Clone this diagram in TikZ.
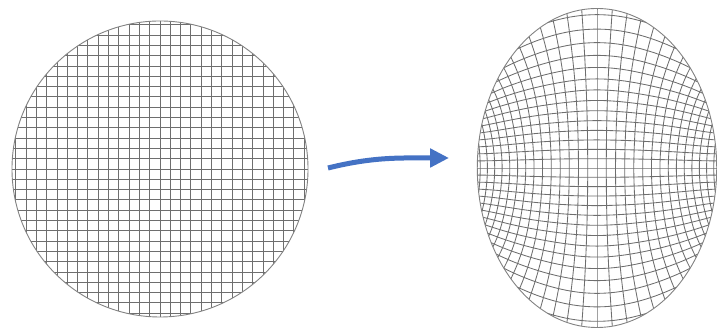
\documentclass[tikz,border=0pt]{standalone}
\usepackage{tikz}
\usetikzlibrary{positioning,arrows.meta,shapes.geometric}
\definecolor{meshgray}{RGB}{110,110,110}
\definecolor{rimgray}{RGB}{130,130,130}
\definecolor{arrblue}{RGB}{68,114,196}

\begin{document}
\begin{tikzpicture}[
  x=0.35mm, y=0.35mm,
  mesh/.style={draw=meshgray, line width=0.85pt},
  rim/.style={draw=rimgray, line width=0.9pt, inner sep=0pt, outer sep=0pt},
  arr/.style={-{Triangle[length=6.6mm, width=6.3mm]}, draw=arrblue, line width=1.75mm},
  declare function={
    mapu(\p,\q)=\p-0.1488*(\p*\p*\p-3*\p*\q*\q)+0.0418*(\p*\p*\p*\p*\p-10*\p*\p*\p*\q*\q+5*\p*\q*\q*\q*\q);
    mapv(\p,\q)=\q-0.1488*(3*\p*\p*\q-\q*\q*\q)+0.0418*(5*\p*\p*\p*\p*\q-10*\p*\p*\q*\q*\q+\q*\q*\q*\q*\q);
    rimfix(\a)=1/sqrt((mapu(cos(\a),sin(\a))/0.893)^2+(mapv(cos(\a),sin(\a))/1.1906)^2);
    warpu(\p,\q)=mapu(\p,\q)*(1+(rimfix(atan2(\q,\p))-1)*(\p*\p+\q*\q));
    warpv(\p,\q)=mapv(\p,\q)*(1+(rimfix(atan2(\q,\p))-1)*(\p*\p+\q*\q));
  }
]
  \useasboundingbox (0,0) rectangle (717,331);

  % --- Left: disk with a square mesh ---
  \begin{scope}
    \clip (160,162) circle [radius=148];
    \begin{scope}[shift={(160,162)}]
      \draw[mesh, step=10.3] (-155,-155) grid (155,155);
    \end{scope}
  \end{scope}
  \node[rim, circle, minimum size=103.6mm] (flat) at (160,162) {};

  % --- Right: same mesh after the warp ---
  \foreach \k in {-14,...,14} {
    \pgfmathsetmacro{\c}{\k*0.0694}
    \pgfmathsetmacro{\L}{sqrt(1-\c*\c)}
    \draw[mesh] plot[domain=-\L:\L, samples=40, smooth, variable=\t]
      ({597+134*warpu(\c,\t)}, {163+134*warpv(\c,\t)});
    \draw[mesh] plot[domain=-\L:\L, samples=40, smooth, variable=\t]
      ({597+134*warpu(\t,\c)}, {163+134*warpv(\t,\c)});
  }
  \node[rim, ellipse, minimum width=83.8mm, minimum height=111.65mm] (warped) at (597,163) {};

  % --- Arrow between the two ---
  \coordinate (from) at (328,163);
  \coordinate (to)   at (449,173);
  \draw[arr] (from) to[out=14, in=180] (to);
\end{tikzpicture}
\end{document}
